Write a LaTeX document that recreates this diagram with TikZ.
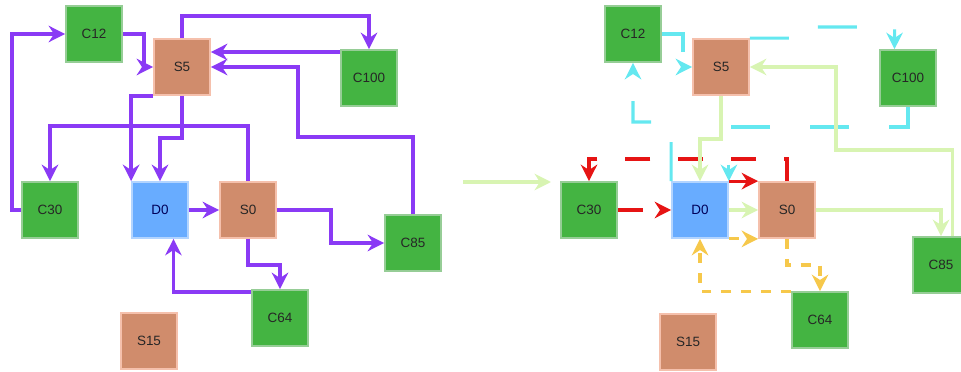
\documentclass[tikz,border=0pt]{standalone}
\usepackage{fontspec}
\setmainfont{Liberation Sans}
\usetikzlibrary{arrows.meta}

\definecolor{boxgreen}{RGB}{68,180,66}
\definecolor{rimgreen}{RGB}{150,205,150}
\definecolor{boxsalmon}{RGB}{208,140,108}
\definecolor{rimsalmon}{RGB}{245,192,172}
\definecolor{boxblue}{RGB}{104,172,255}
\definecolor{rimblue}{RGB}{178,212,255}
\definecolor{flowpurple}{RGB}{138,58,245}
\definecolor{flowcyan}{RGB}{100,232,240}
\definecolor{flowred}{RGB}{230,20,20}
\definecolor{flowlime}{RGB}{216,244,178}
\definecolor{flowyellow}{RGB}{246,200,75}

\begin{document}
\begin{tikzpicture}[x=0.03cm, y=-0.03cm,
    box/.style={minimum size=1.68cm, inner sep=0pt, line width=1.5pt,
        text=black!85, font=\fontsize{11.5}{13}\selectfont},
    cbox/.style={box, fill=boxgreen, draw=rimgreen},
    sbox/.style={box, fill=boxsalmon, draw=rimsalmon},
    dbox/.style={box, fill=boxblue, draw=rimblue, text=blue!35!black},
    tip/.style={-{Stealth[length=14pt,width=14pt,inset=4.5pt]}},
    flow/.style={tip, line width=2.8pt, flowpurple},
    cyanflow/.style={tip, line width=2.6pt, flowcyan, dash pattern=on 33.3pt off 34.1pt},
    redflow/.style={tip, line width=2.6pt, flowred, dash pattern=on 21.3pt off 23.9pt},
    limeflow/.style={tip, line width=2.6pt, flowlime},
    yellowflow/.style={tip, line width=2.6pt, flowyellow, dash pattern=on 8.5pt off 8.5pt}]

    \useasboundingbox (0,0) rectangle (961,372);

    % Boxes, first graph
    \node[cbox] (c12) at (94,34) {C12};
    \node[sbox] (s5) at (182,67) {S5};
    \node[cbox] (c100) at (369,78) {C100};
    \node[cbox] (c30) at (50,210) {C30};
    \node[dbox] (d0) at (160,210) {D0};
    \node[sbox] (s0) at (248,210) {S0};
    \node[cbox] (c85) at (413,243) {C85};
    \node[cbox] (c64) at (280,318) {C64};
    \node[sbox] (s15) at (149,341) {S15};

    % Boxes, second graph
    \node[cbox] (c12r) at (633,34) {C12};
    \node[sbox] (s5r) at (721,67) {S5};
    \node[cbox] (c100r) at (908,78) {C100};
    \node[cbox] (c30r) at (589,210) {C30};
    \node[dbox] (d0r) at (700,210) {D0};
    \node[sbox] (s0r) at (787,210) {S0};
    \node[cbox] (c85r) at (941,265) {C85};
    \node[cbox] (c64r) at (820,320) {C64};
    \node[sbox] (s15r) at (688,342) {S15};

    % Edges, first graph
    \draw[flow] (c30.west) -- (12,210) |- (c12.west);
    \draw[flow] (c12.east) -- (144,34) |- (s5.west);
    \draw[flow] (s5.north) -- (182,16) -| (c100.north);
    \draw[flow] (c100.138) -- (s5.east |- c100.138);
    \draw[flow] (c85.north) |- (298,137) |- (s5.east);
    \draw[flow] (s5.south west) -| (d0.north west);
    \draw[flow] (s5.south) -- (182,138) -| (d0.north);
    \draw[flow] (s0.north) -- (248,126) -| (c30.north);
    \draw[flow] (d0.east) -- (s0.west);
    \draw[flow] (s0.east) -- (331,210) |- (c85.west);
    \draw[flow] (s0.south) -- (248,265) -| (c64.north);
    \draw[flow] (c64.138) -| (d0.-65);

    % Step between the two
    \coordinate (before) at (463,182);
    \coordinate (after) at (551,182);
    \draw[limeflow] (before) -- (after);

    % Edges, second graph
    \draw[cyanflow] (c12r.east) -- (683,34) |- (s5r.west);
    \draw[cyanflow] (s5r.north east) -- (800,38) -- (800,27) -| (c100r.115);
    \draw[cyanflow] (c100r.south) -- (908,127) -| (d0r.north east);
    \draw[cyanflow] (d0r.north west) -- (671,122) -| (c12r.south);
    \draw[redflow] (s0r.north) -- (787,159) -| (c30r.north);
    \draw[redflow] (c30r.east) -- (d0r.west);
    \draw[tip, line width=2.6pt, flowred] (d0r.north east) -- (s0r.north west);
    \draw[limeflow] (s5r.south) -- (721,139) -| (d0r.north);
    \draw[limeflow] (c85r.69) |- (836,150) |- (s5r.east);
    \draw[limeflow] (d0r.east) -- (s0r.west);
    \draw[limeflow] (s0r.east) -| (c85r.north);
    \draw[yellowflow] (d0r.south east) -- (s0r.south west);
    \draw[yellowflow] (s0r.south) -- (787,265) -| (c64r.north);
    \draw[yellowflow] (c64r.north west) -| (d0r.south);
\end{tikzpicture}
\end{document}
